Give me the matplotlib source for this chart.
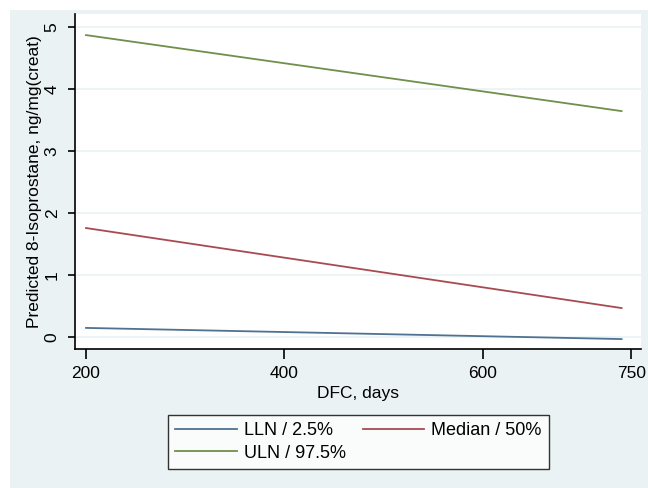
import matplotlib
matplotlib.use("Agg")
import matplotlib.pyplot as plt
from matplotlib.patches import Rectangle

plt.rcParams['font.family'] = ['Liberation Sans', 'DejaVu Sans']

# predicted values
dfc = [200, 740]
lln = [0.15, -0.03]
median = [1.76, 0.47]
uln = [4.87, 3.645]

xticks = [200, 400, 600, 750]
yticks = [0, 1, 2, 3, 4, 5]

bg = '#eaf2f3'
c_lln = '#4f7293'
c_med = '#a84a52'
c_uln = '#6f8f4a'

fig = plt.figure(figsize=(6.48, 4.88), dpi=100)
fig.patch.set_facecolor('white')
fig.patches.append(Rectangle((9.5 / 648, 0), 1, 1 - 10 / 488, transform=fig.transFigure,
                             facecolor=bg, edgecolor='none', zorder=-10))

ax = fig.add_axes([75 / 648, (488 - 349) / 488, (641 - 75) / 648, (349 - 14) / 488])
ax.set_facecolor('white')

h_lln, = ax.plot(dfc, lln, color=c_lln, lw=1.3, label='LLN / 2.5%')
h_med, = ax.plot(dfc, median, color=c_med, lw=1.3, label='Median / 50%')
h_uln, = ax.plot(dfc, uln, color=c_uln, lw=1.3, label='ULN / 97.5%')

ax.set_xlim(188.9, 759.6)
ax.set_ylim(-0.19, 5.21)
ax.set_xticks(xticks)
ax.set_yticks(yticks)
ax.grid(axis='y', color=bg, lw=1.2)
ax.set_axisbelow(True)

for s in ['top', 'right']:
    ax.spines[s].set_visible(False)
for s in ['left', 'bottom']:
    ax.spines[s].set_color('black')
    ax.spines[s].set_linewidth(1.2)

ax.tick_params(axis='x', length=7, width=1.2, labelsize=12.5, pad=5)
ax.tick_params(axis='y', length=5, width=1.2, labelsize=12.5, pad=6)
for lab in ax.get_yticklabels():
    lab.set_rotation(90)
    lab.set_va('center')

ax.set_xlabel('DFC, days', fontsize=12.5, labelpad=4)
ax.set_ylabel('Predicted 8-Isoprostane, ng/mg(creat)', fontsize=12.5, labelpad=2)

# legend is filled row-wise in the original, so reorder for column-major filling
handles = [h_lln, h_uln, h_med]
leg = fig.legend(handles, [h.get_label() for h in handles],
                 loc='center', ncol=2, mode='expand',
                 bbox_to_anchor=(168 / 648, 17 / 488, 381 / 648, 58 / 488),
                 bbox_transform=fig.transFigure, fontsize=13,
                 handlelength=3.4, handletextpad=0.4, frameon=True, fancybox=False,
                 borderaxespad=0, columnspacing=2.0, labelspacing=0.3)
leg.get_frame().set_edgecolor('black')
leg.get_frame().set_linewidth(1.0)
leg.get_frame().set_facecolor('white')

fig.savefig('out.png', dpi=100, facecolor=fig.get_facecolor())
